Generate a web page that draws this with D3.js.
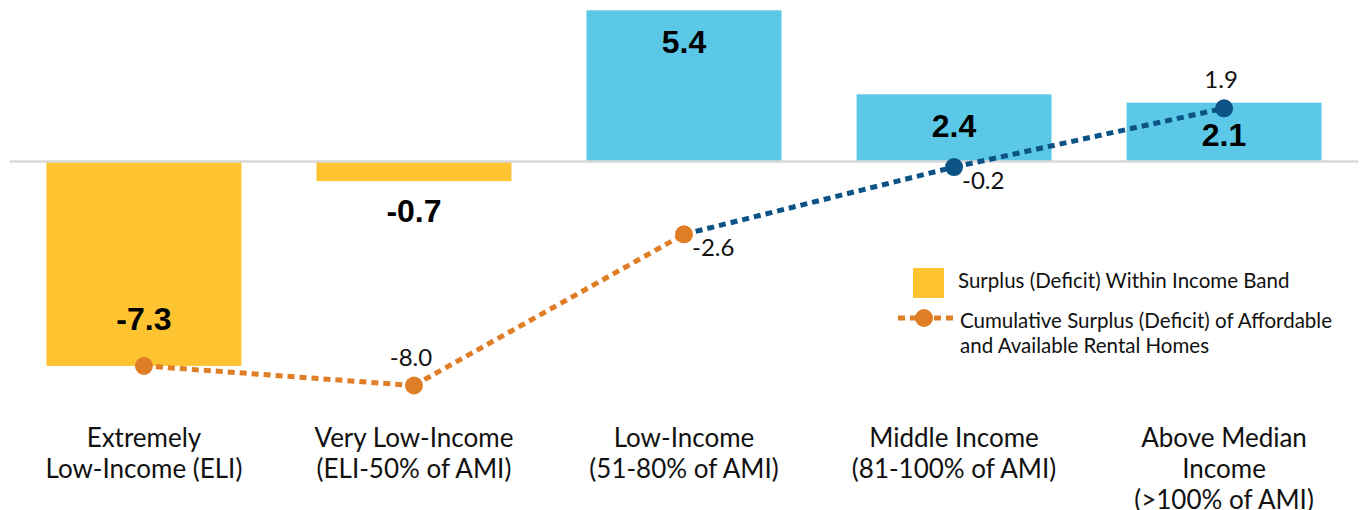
<!DOCTYPE html>
<html>
<head>
<meta charset="utf-8">
<script src="https://cdn.jsdelivr.net/npm/d3@7"></script>
<style>
  body { margin: 0; background: #fff; }
  svg { display: block; }
</style>
</head>
<body>
<svg id="chart" width="1364" height="510"></svg>
<script>
// income bands, values in millions of rental homes
const categories = ["ELI", "VLI", "LI", "MI", "AMI"];
const categoryLines = [
  ["Extremely", "Low-Income (ELI)"],
  ["Very Low-Income", "(ELI-50% of AMI)"],
  ["Low-Income", "(51-80% of AMI)"],
  ["Middle Income", "(81-100% of AMI)"],
  ["Above Median", "Income", "(>100% of AMI)"]
];
const bandValues = [-7.3, -0.7, 5.4, 2.4, 2.1];
const cumulativeValues = [-7.3, -8.0, -2.6, -0.2, 1.9];
const legendLabels = [
  ["Surplus (Deficit) Within Income Band"],
  ["Cumulative Surplus (Deficit) of Affordable", "and Available Rental Homes"]
];

const colors = {
  deficit: "#fdc331",
  surplus: "#5bc8e8",
  lineDeficit: "#e07e27",
  lineSurplus: "#0b5385",
  zero: "#d9d9d9"
};

const svg = d3.select("#chart");

const x = d3.scaleBand()
  .domain(categories)
  .range([10, 1358])
  .paddingInner(0.278)
  .paddingOuter(0.135);

const y = d3.scaleLinear()
  .domain([-8, 5.4])
  .range([385.5, 10.3]);

const cx = d => x(d) + x.bandwidth() / 2;

// bars
svg.append("g")
  .selectAll("rect")
  .data(bandValues)
  .join("rect")
  .attr("x", (d, i) => x(categories[i]))
  .attr("y", d => y(Math.max(0, d)))
  .attr("width", x.bandwidth())
  .attr("height", d => Math.abs(y(d) - y(0)))
  .attr("fill", d => d < 0 ? colors.deficit : colors.surplus);

// zero line
svg.append("line")
  .attr("x1", 10)
  .attr("x2", 1358)
  .attr("y1", y(0))
  .attr("y2", y(0))
  .attr("stroke", colors.zero)
  .attr("stroke-width", 2.5);

// bar labels
svg.append("g")
  .selectAll("text")
  .data(bandValues)
  .join("text")
  .attr("x", (d, i) => cx(categories[i]))
  .attr("y", d => {
    if (d >= 0) return y(d) + 43;
    return (y(d) - y(0)) > 60 ? y(d) - 36 : y(d) + 41;
  })
  .attr("text-anchor", "middle")
  .style("font-family", "'Liberation Sans', Arial, sans-serif")
  .style("font-weight", "bold")
  .style("font-size", "32px")
  .attr("fill", "#000")
  .text(d => d.toFixed(1));

// cumulative line: a point turns blue once the band before it is in surplus
const pointColor = i => (i > 0 && bandValues[i - 1] > 0) ? colors.lineSurplus : colors.lineDeficit;

const lineG = svg.append("g");
for (let i = 1; i < cumulativeValues.length; i++) {
  lineG.append("line")
    .attr("x1", cx(categories[i - 1]))
    .attr("y1", y(cumulativeValues[i - 1]))
    .attr("x2", cx(categories[i]))
    .attr("y2", y(cumulativeValues[i]))
    .attr("stroke", pointColor(i))
    .attr("stroke-width", 5)
    .attr("stroke-dasharray", "7,5");
}

lineG.selectAll("circle")
  .data(cumulativeValues)
  .join("circle")
  .attr("cx", (d, i) => cx(categories[i]))
  .attr("cy", d => y(d))
  .attr("r", 9)
  .attr("fill", (d, i) => pointColor(i));

// line labels (first point shares its value with the bar label)
const minIdx = d3.minIndex(cumulativeValues);
const lastIdx = cumulativeValues.length - 1;
lineG.selectAll("text")
  .data(cumulativeValues.slice(1))
  .join("text")
  .each(function (d, j) {
    const i = j + 1;
    const above = i === minIdx || i === lastIdx;
    d3.select(this)
      .attr("x", cx(categories[i]) + (above ? -3 : 8))
      .attr("y", y(d) + (above ? -20 : 22))
      .attr("text-anchor", above ? "middle" : "start");
  })
  .style("font-family", "Lato, sans-serif")
  .style("font-size", "24px")
  .attr("fill", "#111")
  .text(d => d.toFixed(1));

// category labels
const catG = svg.append("g")
  .style("font-family", "Lato, sans-serif")
  .style("font-size", "26px")
  .attr("fill", "#111");

categoryLines.forEach((lines, i) => {
  const t = catG.append("text")
    .attr("x", cx(categories[i]))
    .attr("y", 447)
    .attr("text-anchor", "middle");
  lines.forEach((s, k) => {
    t.append("tspan")
      .attr("x", cx(categories[i]))
      .attr("dy", k === 0 ? 0 : 31)
      .text(s);
  });
});

// legend
const legend = svg.append("g")
  .style("font-family", "Lato, sans-serif")
  .style("font-size", "20.5px")
  .attr("fill", "#111");

legend.append("rect")
  .attr("x", 913)
  .attr("y", 268)
  .attr("width", 31)
  .attr("height", 30)
  .attr("fill", colors.deficit);

legend.append("text")
  .attr("x", 958)
  .attr("y", 288)
  .text(legendLabels[0][0]);

legend.append("line")
  .attr("x1", 898)
  .attr("x2", 954)
  .attr("y1", 318)
  .attr("y2", 318)
  .attr("stroke", colors.lineDeficit)
  .attr("stroke-width", 5)
  .attr("stroke-dasharray", "7,5");

legend.append("circle")
  .attr("cx", 924)
  .attr("cy", 318)
  .attr("r", 9)
  .attr("fill", colors.lineDeficit);

const lt = legend.append("text")
  .attr("x", 960)
  .attr("y", 328);
legendLabels[1].forEach((s, k) => {
  lt.append("tspan")
    .attr("x", 960)
    .attr("dy", k === 0 ? 0 : 25)
    .text(s);
});
</script>
</body>
</html>
